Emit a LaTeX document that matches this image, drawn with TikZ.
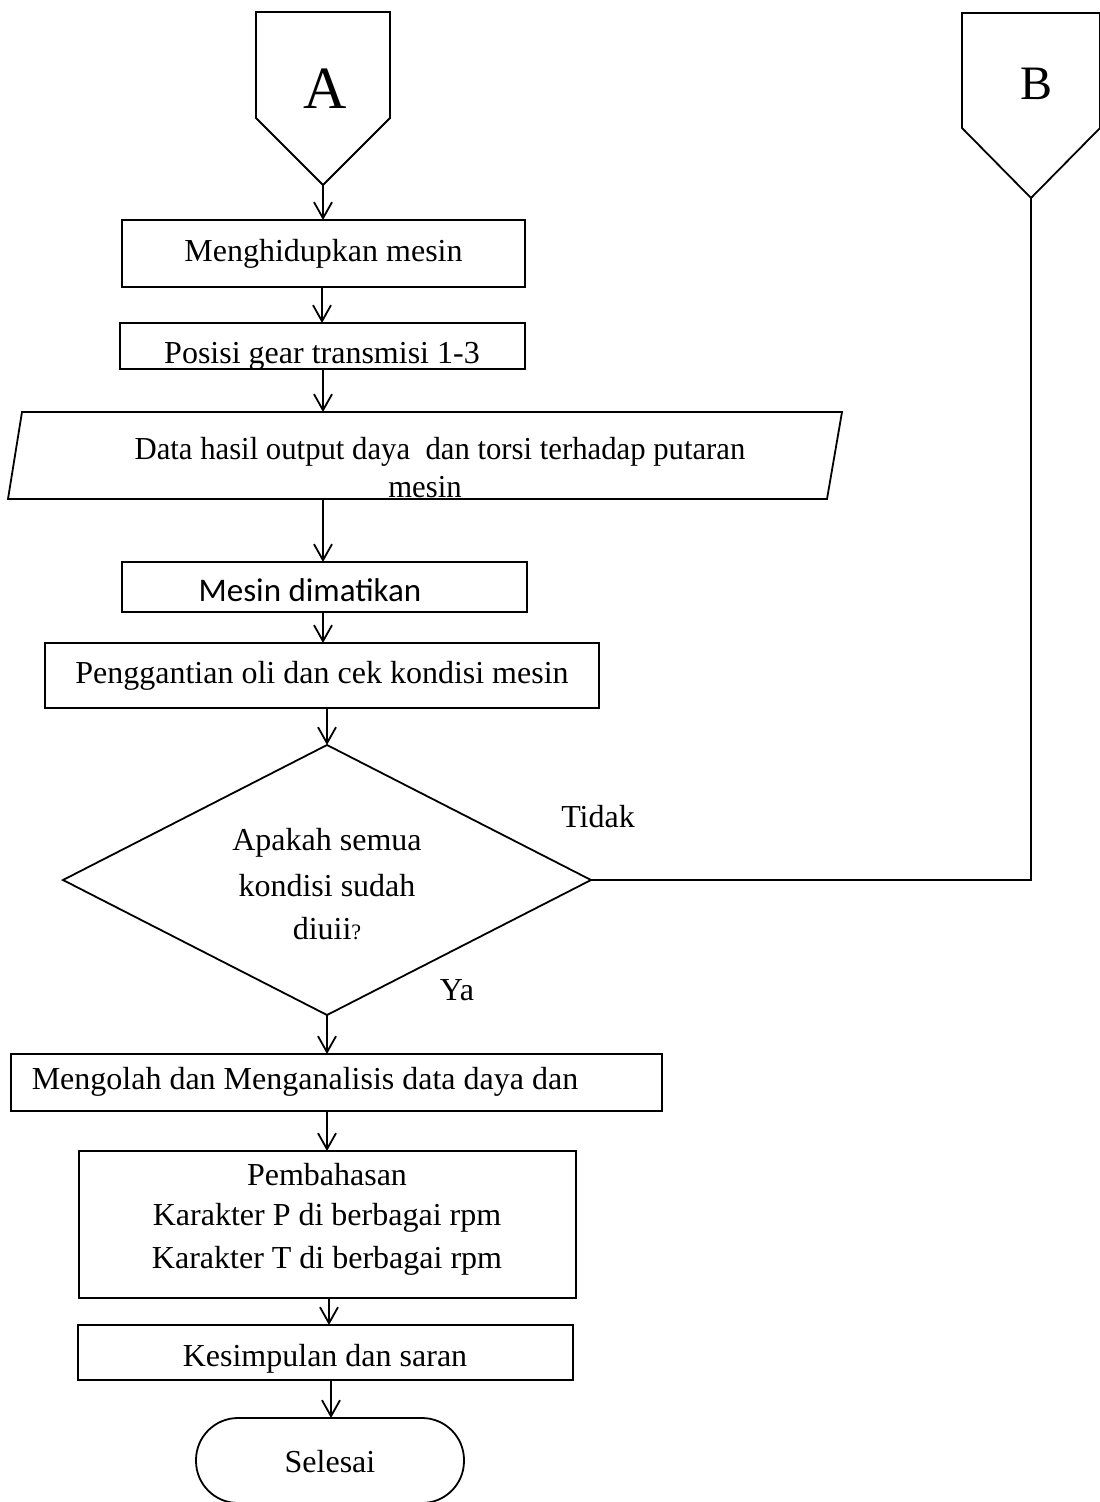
\documentclass[tikz,border=0pt]{standalone}
\usepackage{fontspec}
\setmainfont{Liberation Serif}
\newfontfamily\calibrifont{Carlito}
\usetikzlibrary{arrows.meta,shapes.geometric}
\begin{document}
\begin{tikzpicture}[x=0.5pt,y=-0.5pt,
  line width=0.9pt,
  every node/.style={inner sep=0pt, outer sep=0pt},
  txt/.style={font=\fontsize{16}{21.5}\selectfont, align=center},
  procbox/.style={draw, rectangle, inner sep=0pt},
  flow/.style={-{Straight Barb[length=8pt,width=9pt]}},
]
\useasboundingbox (0,0) rectangle (1099,1502);

% off-page connector A
\draw (256,12) -- (390,12) -- (390,118) -- (323,185) -- (256,118) -- cycle;
\coordinate (apt) at (323,185);
\node[font=\fontsize{30}{36}\selectfont] (alabel) at (325,89) {A};

% off-page connector B
\draw (962,13) -- (1100,13) -- (1100,128) -- (1031,198) -- (962,128) -- cycle;
\coordinate (bpt) at (1031,198);
\node[font=\fontsize{24}{29}\selectfont] (blabel) at (1036,84) {B};

% process steps
\node[procbox, minimum width=201.5pt, minimum height=33.5pt] (m1) at (323.5,253.5) {};
\node[txt] (m1t) at (m1) {Menghidupkan mesin};

\node[procbox, minimum width=202.5pt, minimum height=23pt] (m2) at (322.5,346) {};
\begin{scope}
  \clip (m2.south west) rectangle (m2.north east);
  \node[txt, anchor=base] (m2t) at (322,364) {Posisi gear transmisi 1-3};
\end{scope}

% input/output data
\coordinate (ptl) at (22,412);
\coordinate (ptr) at (842,412);
\coordinate (pbr) at (827,499);
\coordinate (pbl) at (8,499);
\draw (ptl) -- (ptr) -- (pbr) -- (pbl) -- cycle;
\coordinate (ptop) at (323,412);
\coordinate (pbot) at (323,499);
\node[txt] (pt1) at (440,452) {\scalebox{0.96}[1]{Data hasil output daya\ \ dan torsi terhadap putaran}};
\node[txt] (pt2) at (425,487) {\scalebox{0.96}[1]{mesin}};

\node[procbox, minimum width=202.5pt, minimum height=25pt] (m4) at (324.5,587) {};
\node[font=\calibrifont\fontsize{16.5}{19}\selectfont] (m4t) at (310,590) {Mesin dimatikan};

\node[procbox, minimum width=277pt, minimum height=32.5pt] (m5) at (322,675.5) {};
\node[txt] (m5t) at (m5) {Penggantian oli dan cek kondisi mesin};

% decision
\node[draw, diamond, minimum width=264pt, minimum height=135pt] (q) at (327,880) {};
\node[txt] (qt1) at (327,843) {Apakah semua};
\node[txt] (qt2) at (327,886) {kondisi sudah};
\node[txt] (qt3) at (327,929) {diuii{\fontsize{11}{13}\selectfont ?}};
\node[txt] (tidak) at (598,817) {Tidak};
\node[txt] (ya) at (457,990) {Ya};

\node[procbox, minimum width=325.5pt, minimum height=28.5pt] (m7) at (336.5,1082.5) {};
\node[txt] (m7t) at (305,1082) {Mengolah dan Menganalisis data daya dan};

\node[procbox, minimum width=248.5pt, minimum height=73.5pt] (m8) at (327.5,1224.5) {};
\node[txt] (m8a) at (327,1175) {Pembahasan};
\node[txt] (m8b) at (327,1218) {Karakter P di berbagai rpm};
\node[txt] (m8c) at (327,1261) {Karakter T di berbagai rpm};

\node[procbox, minimum width=247.5pt, minimum height=27.5pt] (m9) at (325.5,1352.5) {};
\node[txt] (m9t) at (325,1359) {Kesimpulan dan saran};

% terminator
\node[draw, rectangle, rounded corners=21pt, minimum width=134pt, minimum height=42.5pt] (end) at (330,1460.5) {};
\node[txt] (endt) at (330,1462) {Selesai};

% connectors
\draw[flow] (apt) -- (m1.north -| apt);
\draw[flow] (m1.south -| 322,0) -- (m2.north -| 322,0);
\draw[flow] (m2.south -| 323,0) -- (ptop);
\draw[flow] (pbot) -- (m4.north -| pbot);
\draw[flow] (m4.south -| 323,0) -- (m5.north -| 323,0);
\draw[flow] (m5.south -| q.north) -- (q.north);
\draw[flow] (q.south) -- (m7.north -| q.south);
\draw[flow] (m7.south -| 327,0) -- (m8.north -| 327,0);
\draw[flow] (m8.south -| 329,0) -- (m9.north -| 329,0);
\draw[flow] (m9.south -| 331,0) -- (end.north -| 331,0);
\draw (q.east) -- (q.east -| bpt) -- (bpt);
\end{tikzpicture}
\end{document}
